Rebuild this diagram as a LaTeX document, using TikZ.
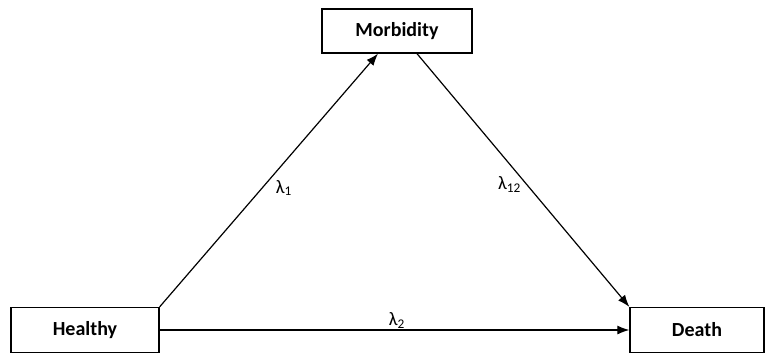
\documentclass[tikz,border=0pt]{standalone}
\usepackage{fontspec}
\setmainfont{Carlito}
\usetikzlibrary{arrows.meta,calc}

\begin{document}
\begin{tikzpicture}[x=1pt,y=-1pt,
  state/.style={rectangle,draw,line width=1.3pt,minimum width=148pt,minimum height=45pt,
                inner sep=0pt,font=\fontsize{20}{24}\selectfont\bfseries},
  trans/.style={-{Latex[length=12pt,width=9pt]},line width=1.2pt},
  rate/.style={font=\fontsize{19}{22}\selectfont,inner sep=1pt}
]
\useasboundingbox (0,0) rectangle (765,354);
% States
\node[state,minimum width=150pt,minimum height=44pt] (morb) at (397,31) {Morbidity};
\node[state] (healthy) at (85,330) {Healthy};
\node[state,minimum width=134pt] (death) at (697,330) {Death};

% Transitions
\draw[trans] (healthy.north east) -- node[rate,pos=0.47,anchor=west,xshift=12pt]{λ\textsubscript{1}} ($(morb.south)+(-19,0)$);
\draw[trans] ($(morb.south)+(20,0)$) -- node[rate,pos=0.516,anchor=east,xshift=-4pt]{λ\textsubscript{12}} (death.north west);
\draw[trans] (healthy.east) -- node[rate,pos=0.505,above]{λ\textsubscript{2}} (death.west);
\end{tikzpicture}
\end{document}
